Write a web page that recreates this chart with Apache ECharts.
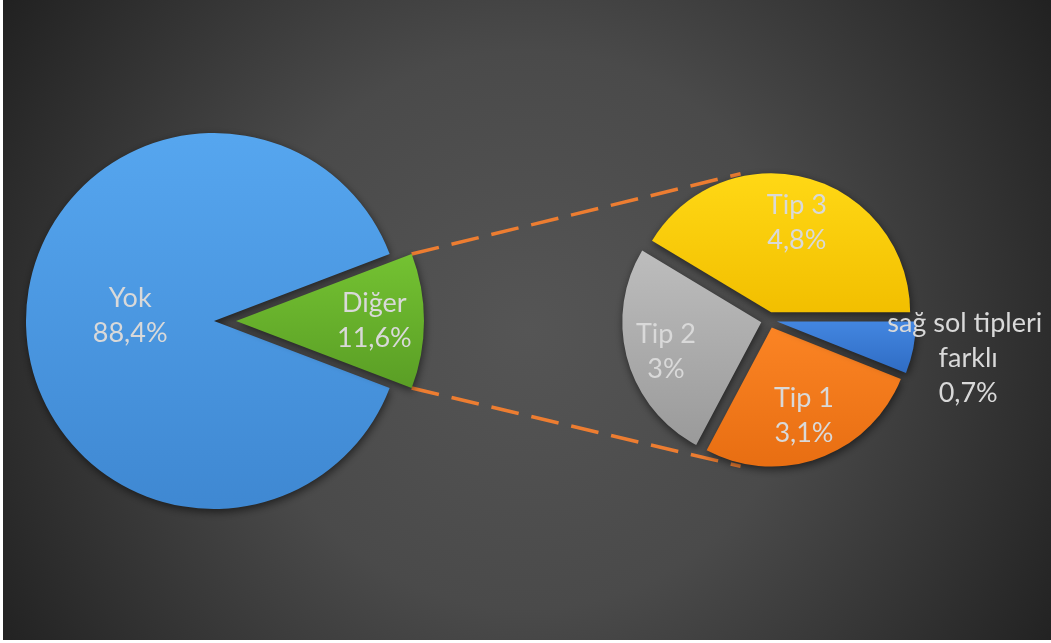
<!DOCTYPE html>
<html>
<head>
<meta charset="utf-8">
<script src="https://cdn.jsdelivr.net/npm/echarts@6/dist/echarts.min.js"></script>
<style>
html, body { margin: 0; padding: 0; background: #ffffff; }
#chart { position: absolute; left: 3px; top: 0; width: 1048px; height: 640px; }
</style>
</head>
<body>
<div id="chart"></div>
<script>
// ana pasta
const mainNames = ['Yok', 'Diğer'];
const mainValues = [88.4, 11.6];
// ikinci pasta (Diğer'in dağılımı)
const subNames = ['Tip 3', 'Tip 2', 'Tip 1', 'sağ sol tipleri farklı'];
const subValues = [4.8, 3, 3.1, 0.7];

const mainColors = [['#56a6ef', '#3f88d2'], ['#74c232', '#5a9e25']];
const subColors = [['#ffd815', '#f2bf00'], ['#bdbdbd', '#9a9a9a'], ['#fb8424', '#e86e12'], ['#4386e0', '#2f6cc4']];

const MAIN_C = [211, 321], MAIN_R = 188, MAIN_OFF = 22;
const SUB_C = [766, 320], SUB_R = 139, SUB_OFF = 8;
const LABEL_COLOR = '#d9d9d9';

function sum(arr) { return arr.reduce((a, b) => a + b, 0); }

// dilimlerin orta açıları (derece)
function midAngles(values, start, clockwise) {
    let total = sum(values), cum = 0;
    return values.map(v => {
        let a = start + (clockwise ? -1 : 1) * (cum + v / 2) / total * 360;
        cum += v;
        return a;
    });
}

function fmt(p) {
    return p.name + '\n' + String(p.value).replace('.', ',') + '%';
}

function grad(c) {
    return { type: 'linear', x: 0, y: 0, x2: 0, y2: 1, colorStops: [{ offset: 0, color: c[0] }, { offset: 1, color: c[1] }] };
}

// Diğer dilimi sağa baksın
const mainStart = (sum(mainValues) - mainValues[1] / 2) / sum(mainValues) * 360;
const mainMids = midAngles(mainValues, mainStart, true);
const subMids = midAngles(subValues, 0, false);

// etiketin merkezden uzaklığı (yarıçap oranı) ve dikey ince ayar
const mainLabelK = [0.43, 0.72], mainLabelDy = [-5, 0];
const subLabelK = [0.67, 0.69, 0.65, 1.38], subLabelDy = [3, 3, 1, 0];

function shift(mids, ks, dys, r) {
    return function (p) {
        let a = mids[p.dataIndex] * Math.PI / 180;
        let k = ks[p.dataIndex] - 0.5;
        return { dx: k * r * Math.cos(a), dy: -k * r * Math.sin(a) + dys[p.dataIndex] };
    };
}

// bağlantı çizgileri
const halfSpan = mainValues[1] / sum(mainValues) * Math.PI;
const gx = MAIN_C[0] + MAIN_OFF, gy = MAIN_C[1];
function onMain(sign) {
    return [gx + MAIN_R * Math.cos(halfSpan), gy - sign * MAIN_R * Math.sin(halfSpan)];
}
function onSub(deg) {
    let a = deg * Math.PI / 180, r = SUB_R + 10;
    return [SUB_C[0] + r * Math.cos(a), SUB_C[1] - r * Math.sin(a)];
}
const p1 = onMain(1), p2 = onSub(101), p3 = onMain(-1), p4 = onSub(259);

const shadow = { shadowBlur: 8, shadowColor: 'rgba(0,0,0,0.55)', shadowOffsetX: 1, shadowOffsetY: 3 };

var chart = echarts.init(document.getElementById('chart'));
chart.setOption({
    animation: false,
    backgroundColor: {
        type: 'radial', x: 524, y: 330, r: 620, global: true,
        colorStops: [{ offset: 0, color: '#555555' }, { offset: 0.45, color: '#4a4a4a' }, { offset: 1, color: '#212121' }]
    },
    graphic: [
        { type: 'line', z: 1, silent: true, shape: { x1: p1[0], y1: p1[1], x2: p2[0], y2: p2[1] },
          style: { stroke: '#ed7d31', lineWidth: 3.5, lineDash: [28, 13] } },
        { type: 'line', z: 1, silent: true, shape: { x1: p3[0], y1: p3[1], x2: p4[0], y2: p4[1] },
          style: { stroke: '#ed7d31', lineWidth: 3.5, lineDash: [28, 13] } }
    ],
    series: [
        {
            type: 'pie',
            z: 3,
            silent: true,
            center: MAIN_C,
            radius: [0, MAIN_R],
            startAngle: mainStart,
            clockwise: true,
            selectedMode: 'multiple',
            selectedOffset: MAIN_OFF,
            emphasis: { scale: false },
            itemStyle: shadow,
            label: {
                position: 'inside', formatter: fmt, color: LABEL_COLOR,
                fontFamily: 'Lato', fontSize: 27, lineHeight: 35, align: 'center'
            },
            labelLine: { show: false },
            labelLayout: shift(mainMids, mainLabelK, mainLabelDy, MAIN_R),
            data: mainNames.map((n, i) => ({
                name: n, value: mainValues[i], selected: i === 1,
                itemStyle: { color: grad(mainColors[i]) }
            }))
        },
        {
            type: 'pie',
            z: 3,
            silent: true,
            center: SUB_C,
            radius: [0, SUB_R],
            startAngle: 0,
            clockwise: false,
            selectedMode: 'multiple',
            selectedOffset: SUB_OFF,
            emphasis: { scale: false },
            itemStyle: shadow,
            label: {
                position: 'inside', formatter: fmt, color: LABEL_COLOR,
                fontFamily: 'Lato', fontSize: 27, lineHeight: 35, align: 'center',
                width: 180, overflow: 'break'
            },
            labelLine: { show: false },
            labelLayout: shift(subMids, subLabelK, subLabelDy, SUB_R),
            data: subNames.map((n, i) => ({
                name: n, value: subValues[i], selected: true,
                itemStyle: { color: grad(subColors[i]) }
            }))
        }
    ]
});
</script>
</body>
</html>
